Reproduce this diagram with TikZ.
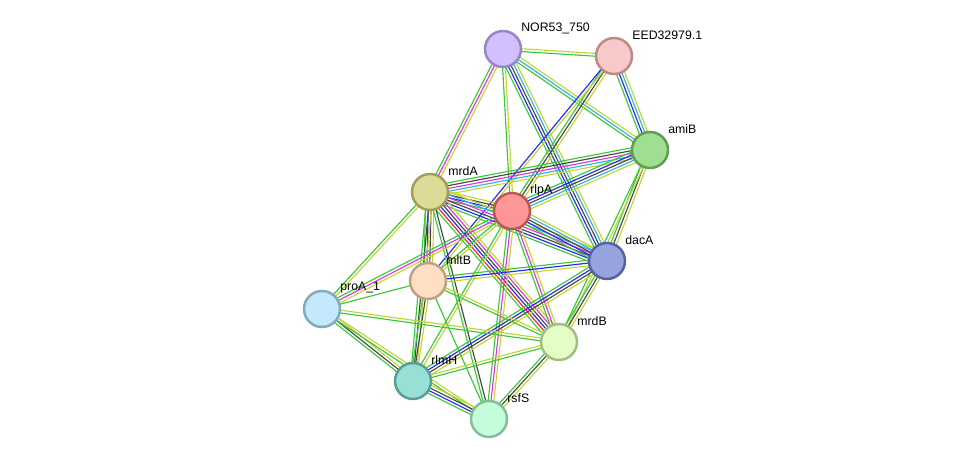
\documentclass[tikz,border=0pt]{standalone}
\usepackage{fontspec}
\setmainfont{Liberation Sans}
\usetikzlibrary{calc}
\pgfdeclarelayer{background}
\pgfsetlayers{background,main}

\definecolor{neigh}{HTML}{38C938}
\definecolor{fusion}{HTML}{FF2222}
\definecolor{cooc}{HTML}{2626FF}
\definecolor{coexp}{HTML}{474747}
\definecolor{exper}{HTML}{E034E0}
\definecolor{datab}{HTML}{33B4E0}
\definecolor{textm}{HTML}{C2D633}

\newcommand{\bundle}[3]{%
  \foreach \c [count=\i] in {#3} {\xdef\nlines{\i}}%
  \foreach \c [count=\i] in {#3} {%
    \pgfmathsetmacro{\off}{(\i-(\nlines+1)/2)*1.6}%
    \draw[link,\c] ($(#1)!\off pt!90:(#2)$) -- ($(#2)!\off pt!-90:(#1)$);
  }%
}

\begin{document}
\begin{tikzpicture}[x=0.02cm,y=-0.02cm,
    prot/.style={circle,minimum size=0.72cm,inner sep=0pt,line width=1.4pt},
    lbl/.style={anchor=west,inner sep=0pt,font=\fontsize{7}{8}\selectfont},
    link/.style={line width=0.65pt}]

      \useasboundingbox (0,0) rectangle (976,465);

      \begin{scope}[every node/.style={prot}]
        \node[fill={rgb,255:red,209;green,192;blue,252},draw={rgb,255:red,152;green,133;blue,200}] (NOR) at (503,49) {};
        \node[fill={rgb,255:red,248;green,201;blue,201},draw={rgb,255:red,190;green,136;blue,136}] (EED) at (614,56) {};
        \node[fill={rgb,255:red,160;green,223;blue,146},draw={rgb,255:red,92;green,158;blue,82}] (amiB) at (650,150) {};
        \node[fill={rgb,255:red,222;green,218;blue,152},draw={rgb,255:red,160;green,157;blue,90}] (mrdA) at (430,192) {};
        \node[fill={rgb,255:red,255;green,150;blue,150},draw={rgb,255:red,190;green,86;blue,86}] (rlpA) at (512,211) {};
        \node[fill={rgb,255:red,151;green,163;blue,221},draw={rgb,255:red,86;green,98;blue,158}] (dacA) at (607,261) {};
        \node[fill={rgb,255:red,254;green,223;blue,196},draw={rgb,255:red,190;green,160;blue,133}] (mltB) at (428,281) {};
        \node[fill={rgb,255:red,196;green,233;blue,253},draw={rgb,255:red,130;green,169;blue,190}] (proA) at (322,309) {};
        \node[fill={rgb,255:red,228;green,253;blue,197},draw={rgb,255:red,163;green,190;blue,131}] (mrdB) at (559,342) {};
        \node[fill={rgb,255:red,152;green,223;blue,213},draw={rgb,255:red,88;green,158;blue,148}] (rlmH) at (413,381) {};
        \node[fill={rgb,255:red,196;green,253;blue,218},draw={rgb,255:red,130;green,190;blue,154}] (rsfS) at (489,419) {};
      \end{scope}

      \begin{scope}[every node/.style={lbl}]
        \node (NOR-l) at ($(NOR)+(18,-21)$) {NOR53\_750};
        \node (EED-l) at ($(EED)+(18,-21)$) {EED32979.1};
        \node (amiB-l) at ($(amiB)+(18,-21)$) {amiB};
        \node (mrdA-l) at ($(mrdA)+(18,-21)$) {mrdA};
        \node (rlpA-l) at ($(rlpA)+(18,-21)$) {rlpA};
        \node (dacA-l) at ($(dacA)+(18,-21)$) {dacA};
        \node (mltB-l) at ($(mltB)+(18,-21)$) {mltB};
        \node (proA-l) at ($(proA)+(18,-21)$) {proA\_1};
        \node (mrdB-l) at ($(mrdB)+(18,-21)$) {mrdB};
        \node (rlmH-l) at ($(rlmH)+(18,-21)$) {rlmH};
        \node (rsfS-l) at ($(rsfS)+(18,-21)$) {rsfS};
      \end{scope}

      \begin{pgfonlayer}{background}
        \bundle{NOR}{EED}{neigh,textm}
        \bundle{NOR}{mrdA}{neigh,exper,textm}
        \bundle{NOR}{rlpA}{neigh,textm}
        \bundle{NOR}{dacA}{neigh,cooc,coexp,datab,textm}
        \bundle{NOR}{amiB}{neigh,datab,textm}
        \bundle{EED}{amiB}{neigh,cooc,datab,textm}
        \bundle{EED}{rlpA}{neigh,coexp,textm}
        \bundle{EED}{mltB}{cooc,textm}
        \bundle{amiB}{mrdA}{neigh,coexp,exper,datab,textm}
        \bundle{amiB}{rlpA}{neigh,cooc,coexp,datab,textm}
        \bundle{amiB}{dacA}{neigh,coexp,textm}
        \bundle{amiB}{mrdB}{neigh,textm}
        \bundle{mrdA}{rlpA}{neigh,cooc,coexp,textm}
        \bundle{mrdA}{dacA}{neigh,cooc,coexp,exper,datab,textm}
        \bundle{mrdA}{mrdB}{neigh,fusion,cooc,coexp,exper,textm}
        \bundle{mrdA}{mltB}{neigh,cooc,coexp,textm}
        \bundle{mrdA}{rlmH}{neigh,coexp,textm}
        \bundle{mrdA}{rsfS}{neigh,coexp}
        \bundle{mrdA}{proA}{neigh,textm}
        \bundle{rlpA}{dacA}{neigh,cooc,coexp,datab,textm}
        \bundle{rlpA}{mrdB}{neigh,exper,textm}
        \bundle{rlpA}{rsfS}{neigh,exper,textm}
        \bundle{rlpA}{proA}{neigh,exper,textm}
        \bundle{rlpA}{mltB}{neigh,textm}
        \bundle{rlpA}{rlmH}{neigh,textm}
        \bundle{dacA}{mltB}{neigh,cooc,textm}
        \bundle{dacA}{mrdB}{neigh,coexp,textm}
        \bundle{dacA}{rlmH}{neigh,cooc,coexp,textm}
        \bundle{mltB}{proA}{neigh}
        \bundle{mltB}{rlmH}{neigh,coexp,textm}
        \bundle{mltB}{rsfS}{neigh}
        \bundle{mltB}{mrdB}{neigh,textm}
        \bundle{proA}{rlmH}{neigh,coexp,textm}
        \bundle{proA}{mrdB}{neigh,textm}
        \bundle{proA}{rsfS}{neigh,textm}
        \bundle{rlmH}{rsfS}{neigh,cooc,coexp,textm}
        \bundle{rlmH}{mrdB}{neigh,textm}
        \bundle{mrdB}{rsfS}{neigh,coexp,textm}
      \end{pgfonlayer}

    \end{tikzpicture}
\end{document}
